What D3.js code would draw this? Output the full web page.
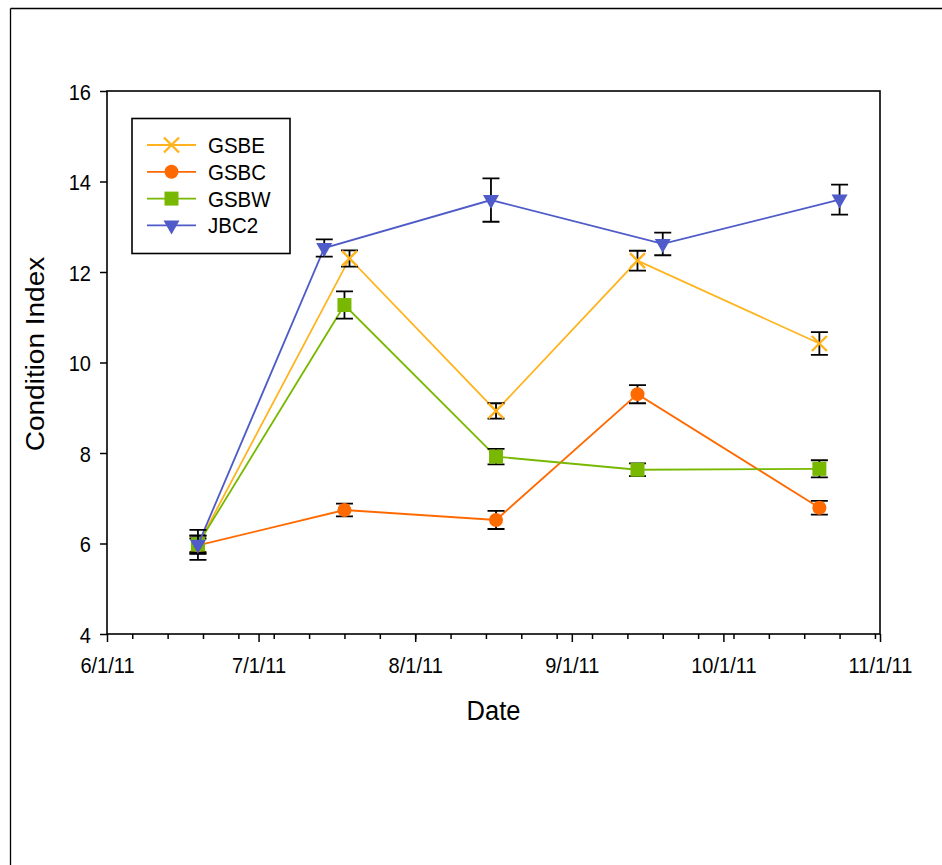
<!DOCTYPE html>
<html>
<head>
<meta charset="utf-8">
<script src="https://cdn.jsdelivr.net/npm/d3@7"></script>
<style>
  html, body { margin: 0; padding: 0; background: #fff; }
  svg { display: block; font-family: "Liberation Sans", Arial, sans-serif; }
</style>
</head>
<body>
<svg id="chart" width="942" height="865"></svg>
<script>
// ---- Data ----
const seriesNames = ["GSBE", "GSBC", "GSBW", "JBC2"];
const gsbeDates = ["2011-06-19", "2011-07-19", "2011-08-17", "2011-09-14", "2011-10-20"];
const gsbcDates = ["2011-06-19", "2011-07-18", "2011-08-17", "2011-09-14", "2011-10-20"];
const gsbwDates = ["2011-06-19", "2011-07-18", "2011-08-17", "2011-09-14", "2011-10-20"];
const jbc2Dates = ["2011-06-19", "2011-07-14", "2011-08-16", "2011-09-19", "2011-10-24"];
const gsbeValues = [5.97, 12.30, 8.93, 12.25, 10.42];
const gsbcValues = [5.96, 6.74, 6.52, 9.30, 6.79];
const gsbwValues = [5.98, 11.27, 7.92, 7.63, 7.65];
const jbc2Values = [5.97, 12.53, 13.59, 12.62, 13.60];
const gsbeErrors = [0.20, 0.18, 0.17, 0.22, 0.25];
const gsbcErrors = [0.15, 0.14, 0.20, 0.20, 0.15];
const gsbwErrors = [0.20, 0.30, 0.17, 0.14, 0.19];
const jbc2Errors = [0.33, 0.19, 0.48, 0.25, 0.33];
const yTicks = [4, 6, 8, 10, 12, 14, 16];
const xDomain = ["2011-06-01", "2011-11-01"];

const colors = { GSBE: "#FFB41E", GSBC: "#FF6A00", GSBW: "#78B800", JBC2: "#4E5BC8" };
const symbols = { GSBE: "x", GSBC: "circle", GSBW: "square", JBC2: "triangleDown" };

const parse = d3.utcParse("%Y-%m-%d");
function build(name, dates, vals, errs) {
  return { name, points: dates.map((d, i) => ({ date: parse(d), value: vals[i], err: errs[i] })) };
}
const series = [
  build("GSBE", gsbeDates, gsbeValues, gsbeErrors),
  build("GSBC", gsbcDates, gsbcValues, gsbcErrors),
  build("GSBW", gsbwDates, gsbwValues, gsbwErrors),
  build("JBC2", jbc2Dates, jbc2Values, jbc2Errors)
];

// ---- Layout ----
const svg = d3.select("#chart");
const pLeft = 107, pRight = 880, pTop = 91, pBottom = 634;
const SX = 0.91; // horizontal squeeze of text

// outer frame (top and left only)
svg.append("line").attr("x1", 10.5).attr("x2", 942).attr("y1", 8.5).attr("y2", 8.5)
  .attr("stroke", "#000").attr("stroke-width", 1.3);
svg.append("line").attr("x1", 10.5).attr("x2", 10.5).attr("y1", 8.5).attr("y2", 865)
  .attr("stroke", "#000").attr("stroke-width", 1.3);

const x = d3.scaleUtc().domain(xDomain.map(parse)).range([pLeft, pRight]);
const y = d3.scaleLinear().domain([4, 16]).range([pBottom, pTop]);

// plot frame
svg.append("rect").attr("x", pLeft).attr("y", pTop).attr("width", pRight - pLeft).attr("height", pBottom - pTop)
  .attr("fill", "none").attr("stroke", "#000").attr("stroke-width", 1.6);

// x axis
const fmt = d3.utcFormat("%-m/%-d/%y");
const xAxis = svg.append("g").attr("transform", `translate(0,${pBottom})`)
  .call(d3.axisBottom(x).ticks(d3.utcMonth.every(1)).tickFormat(fmt).tickSize(8).tickPadding(8));
const xMinor = svg.append("g").attr("transform", `translate(0,${pBottom})`)
  .call(d3.axisBottom(x).ticks(d3.utcMonday.every(1)).tickFormat("").tickSize(5));
[xAxis, xMinor].forEach(g => {
  g.select(".domain").remove();
  g.selectAll(".tick line").attr("stroke", "#000").attr("stroke-width", 1.5);
});
xAxis.selectAll(".tick text").attr("font-size", 22).attr("fill", "#000")
  .attr("font-family", "'Liberation Sans', Arial, sans-serif")
  .attr("x", 0).attr("dy", null).attr("y", 39)
  .attr("transform", `scale(${SX},1)`);

// y axis
const yAxis = svg.append("g").attr("transform", `translate(${pLeft},0)`)
  .call(d3.axisLeft(y).tickValues(yTicks).tickSize(7).tickPadding(9));
yAxis.select(".domain").remove();
yAxis.selectAll(".tick line").attr("stroke", "#000").attr("stroke-width", 1.5);
yAxis.selectAll(".tick text").attr("font-size", 22).attr("fill", "#000")
  .attr("font-family", "'Liberation Sans', Arial, sans-serif")
  .attr("x", -16 / SX).attr("dy", null).attr("y", 8)
  .attr("transform", `scale(${SX},1)`);

// axis titles
svg.append("text").attr("transform", `translate(${(pLeft + pRight) / 2},720) scale(${SX},1)`)
  .attr("text-anchor", "middle").attr("font-size", 28).text("Date");
svg.append("text").attr("transform", `translate(44,354) scale(${SX},1) rotate(-90)`)
  .attr("text-anchor", "middle").attr("font-size", 28).text("Condition Index");

// markers
function drawSymbol(g, type, color, cx, cy) {
  if (type === "x") {
    const s = 7.5;
    g.append("path").attr("d", `M${cx - s},${cy - s}L${cx + s},${cy + s}M${cx - s},${cy + s}L${cx + s},${cy - s}`)
      .attr("stroke", color).attr("stroke-width", 2.4).attr("fill", "none");
  } else if (type === "circle") {
    g.append("circle").attr("cx", cx).attr("cy", cy).attr("r", 7).attr("fill", color);
  } else if (type === "square") {
    g.append("rect").attr("x", cx - 7).attr("y", cy - 7).attr("width", 14).attr("height", 14).attr("fill", color);
  } else if (type === "triangleDown") {
    const w = 8, h1 = 5, h2 = 9;
    g.append("path").attr("d", `M${cx - w},${cy - h1}L${cx + w},${cy - h1}L${cx},${cy + h2}Z`).attr("fill", color);
  }
}

const line = d3.line().x(d => x(d.date)).y(d => y(d.value));
const plot = svg.append("g");

series.forEach(s => {
  const g = plot.append("g");
  g.append("path").datum(s.points).attr("d", line).attr("fill", "none")
    .attr("stroke", colors[s.name]).attr("stroke-width", 1.8);
  // error bars
  s.points.forEach(p => {
    const cx = x(p.date), y1 = y(p.value + p.err), y2 = y(p.value - p.err), cw = 8.5;
    g.append("path").attr("d", `M${cx},${y1}L${cx},${y2}M${cx - cw},${y1}L${cx + cw},${y1}M${cx - cw},${y2}L${cx + cw},${y2}`)
      .attr("stroke", "#000").attr("stroke-width", 1.8).attr("fill", "none");
  });
  s.points.forEach(p => drawSymbol(g, symbols[s.name], colors[s.name], x(p.date), y(p.value)));
});

// legend
const lg = svg.append("g");
lg.append("rect").attr("x", 132).attr("y", 118.5).attr("width", 158).attr("height", 135)
  .attr("fill", "#fff").attr("stroke", "#000").attr("stroke-width", 1.6);
seriesNames.forEach((n, i) => {
  const ly = 145 + i * 26.8;
  lg.append("line").attr("x1", 147).attr("x2", 196).attr("y1", ly).attr("y2", ly)
    .attr("stroke", colors[n]).attr("stroke-width", 1.8);
  drawSymbol(lg, symbols[n], colors[n], 171.5, ly);
  lg.append("text").attr("transform", `translate(208,${ly + 8}) scale(${SX},1)`)
    .attr("font-size", 22.5).text(n);
});
</script>
</body>
</html>
